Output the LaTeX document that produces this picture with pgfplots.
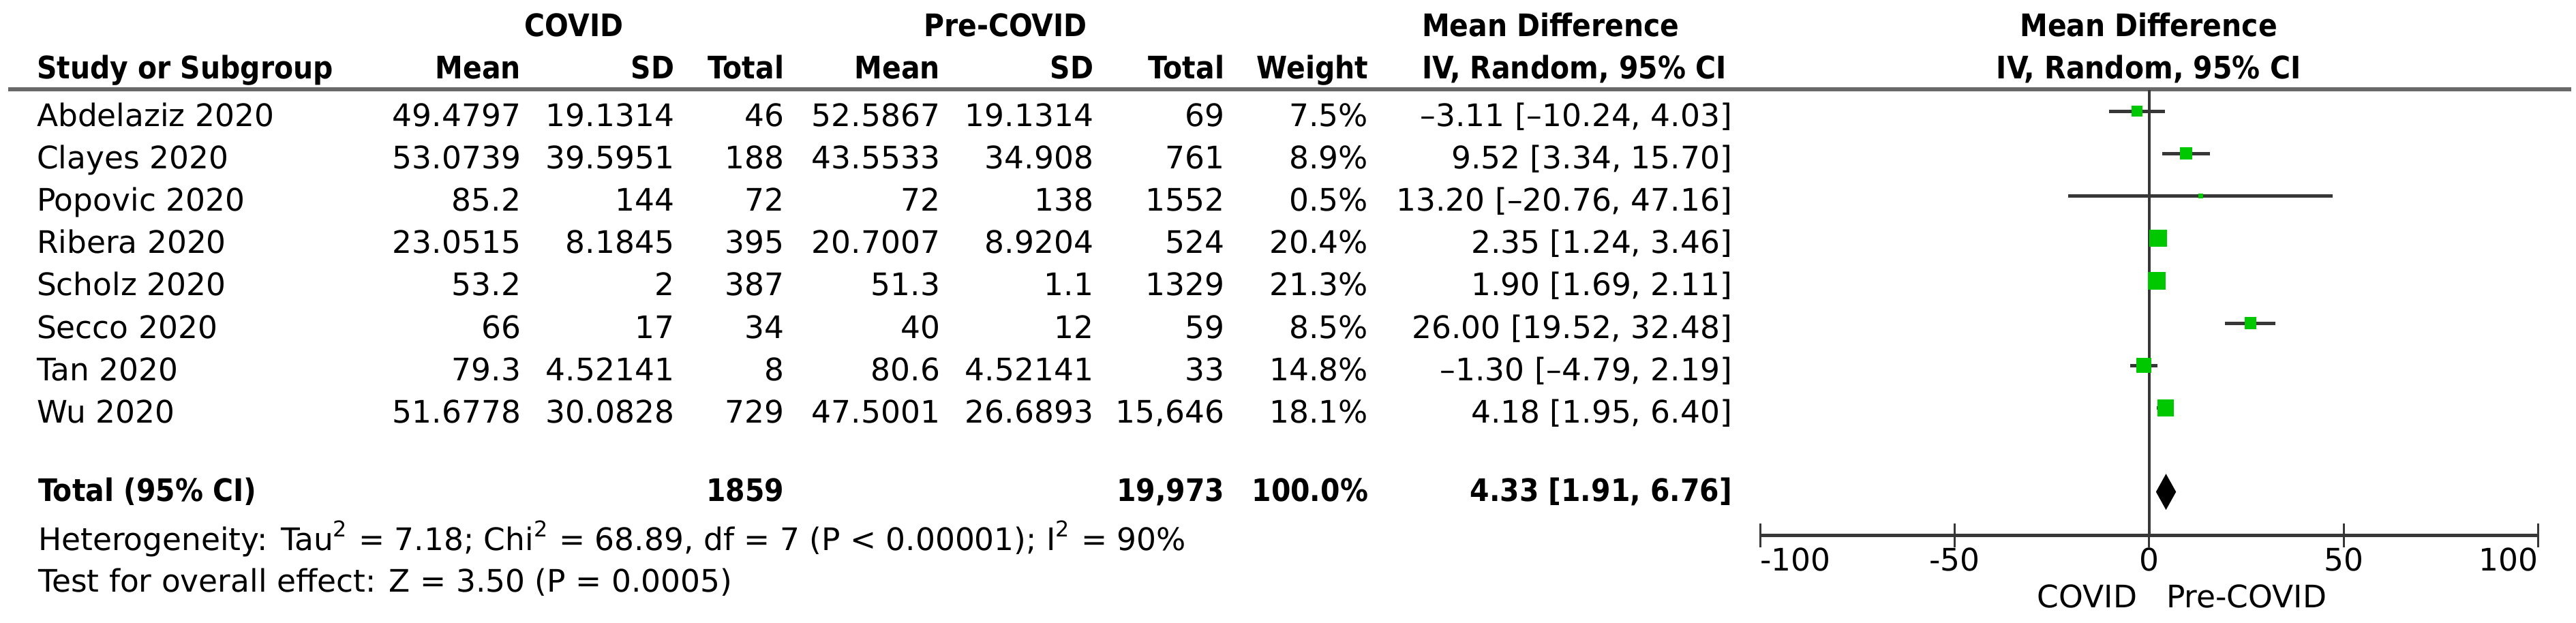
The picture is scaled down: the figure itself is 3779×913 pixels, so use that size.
\documentclass[border=0pt]{standalone}
\usepackage{fontspec}
\setmainfont{DejaVu Sans}[BoldFont={DejaVu Sans Condensed Bold}]
\usepackage{pgfplots}
\usepackage{pgfplotstable}
\pgfplotsset{compat=1.18}
\definecolor{sqgreen}{RGB}{0,200,0}
\definecolor{cigray}{RGB}{55,55,55}
\definecolor{rulegray}{RGB}{105,105,105}

% row = vertical slot (negative, top to bottom), md = mean difference, lo/hi = 95% CI, w = weight (%), ms = half side of square (pt)
\pgfplotstableread{
row md lo hi w ms
-1 -3.11 -10.24 4.03 7.5 1.45
-2 9.52 3.34 15.70 8.9 1.57
-3 13.20 -20.76 47.16 0.5 0.50
-4 2.35 1.24 3.46 20.4 2.35
-5 1.90 1.69 2.11 21.3 2.40
-6 26.00 19.52 32.48 8.5 1.54
-7 -1.30 -4.79 2.19 14.8 2.00
-8 4.18 1.95 6.40 18.1 2.22
}\studies

\newcommand\fnt{\fontsize{9.1pt}{11pt}\selectfont}
\newcommand\datarow[9]{%
  \pgfmathsetmacro\yb{185+(#1-1)*62.2}%
  \node[L] at (53,\yb) {#2};
  \node[R] at (765,\yb) {#3};
  \node[R] at (990,\yb) {#4};
  \node[R] at (1151,\yb) {#5};
  \node[R] at (1380,\yb) {#6};
  \node[R] at (1605,\yb) {#7};
  \node[R] at (1797,\yb) {#8};
  \node[R] at (2008,\yb) {#9};
}
\newcommand\cirow[2]{%
  \pgfmathsetmacro\yb{185+(#1-1)*62.2}%
  \node[R] at (2542,\yb) {#2};
}

\begin{document}
\fnt
\begin{tikzpicture}[x=0.2pt,y=-0.2pt,
  every node/.style={font=\fnt, inner sep=0pt},
  L/.style={anchor=base west}, R/.style={anchor=base east}, C/.style={anchor=base}]
\useasboundingbox (0,0) rectangle (3779,913);

% header
\node[C] at (842,53) {\textbf{COVID}};
\node[C] at (1475,53) {\textbf{Pre-COVID}};
\node[L] at (2085,53) {\textbf{Mean Difference}};
\node[C] at (3152,53) {\textbf{Mean Difference}};
\node[L] at (53,115) {\textbf{Study or Subgroup}};
\node[R] at (765,115) {\textbf{Mean}};
\node[R] at (990,115) {\textbf{SD}};
\node[R] at (1151,115) {\textbf{Total}};
\node[R] at (1380,115) {\textbf{Mean}};
\node[R] at (1605,115) {\textbf{SD}};
\node[R] at (1797,115) {\textbf{Total}};
\node[R] at (2008,115) {\textbf{Weight}};
\node[L] at (2085,115) {\textbf{IV, Random, 95\% CI}};
\node[C] at (3152,115) {\textbf{IV, Random, 95\% CI}};
\draw[rulegray, line width=1.2pt] (12,131) -- (3772,131);

% study rows
\datarow{1}{Abdelaziz 2020}{49.4797}{19.1314}{46}{52.5867}{19.1314}{69}{7.5\%}
\datarow{2}{Clayes 2020}{53.0739}{39.5951}{188}{43.5533}{34.908}{761}{8.9\%}
\datarow{3}{Popovic 2020}{85.2}{144}{72}{72}{138}{1552}{0.5\%}
\datarow{4}{Ribera 2020}{23.0515}{8.1845}{395}{20.7007}{8.9204}{524}{20.4\%}
\datarow{5}{Scholz 2020}{53.2}{2}{387}{51.3}{1.1}{1329}{21.3\%}
\datarow{6}{Secco 2020}{66}{17}{34}{40}{12}{59}{8.5\%}
\datarow{7}{Tan 2020}{79.3}{4.52141}{8}{80.6}{4.52141}{33}{14.8\%}
\datarow{8}{Wu 2020}{51.6778}{30.0828}{729}{47.5001}{26.6893}{15,646}{18.1\%}
\cirow{1}{--3.11 [--10.24, 4.03]}
\cirow{2}{9.52 [3.34, 15.70]}
\cirow{3}{13.20 [--20.76, 47.16]}
\cirow{4}{2.35 [1.24, 3.46]}
\cirow{5}{1.90 [1.69, 2.11]}
\cirow{6}{26.00 [19.52, 32.48]}
\cirow{7}{--1.30 [--4.79, 2.19]}
\cirow{8}{4.18 [1.95, 6.40]}

% total
\node[L] at (55,735) {\textbf{Total (95\% CI)}};
\node[R] at (1151,735) {\textbf{1859}};
\node[R] at (1797,735) {\textbf{19,973}};
\node[R] at (2008,735) {\textbf{100.0\%}};
\node[R] at (2542,735) {\textbf{4.33 [1.91, 6.76]}};
\node[L] at (55,807) {Heterogeneity: Tau\textsuperscript{2} = 7.18; Chi\textsuperscript{2} = 68.89, df = 7 (P < 0.00001); I\textsuperscript{2} = 90\%};
\node[L] at (55,868) {Test for overall effect: Z = 3.50 (P = 0.0005)};

% plot footer labels
\node[R] at (3136,891) {COVID};
\node[L] at (3177,891) {Pre-COVID};

\coordinate (SW) at (2582,785);
\begin{axis}[at={(SW)}, anchor=south west, scale only axis,
  width=228.3pt, height=130.6pt,
  xmin=-100, xmax=100, ymin=-11.0, ymax=-0.50,
  axis x line*=bottom, axis y line=none,
  axis line style={-, draw=cigray, line width=1pt},
  xtick={-100,-50,0,50,100},
  xticklabels={\rlap{-100},-50,0,50,\llap{100}},
  tick align=center, major tick length=7pt,
  tick style={draw=cigray, line width=0.6pt},
  xticklabel style={anchor=base, inner sep=0pt, yshift=-7pt, font=\fnt},
  clip=false]
\addplot[cigray, line width=0.7pt] coordinates {(0,-0.5) (0,-11.0)};
\addplot[forget plot, only marks, mark=*, mark size=0pt, mark options={draw=none, fill=none},
  error bars/.cd, x dir=both, x explicit, error mark=none,
  error bar style={cigray, line width=1pt}]
  table[x=md, y=row, x error minus expr=\thisrow{md}-\thisrow{lo}, x error plus expr=\thisrow{hi}-\thisrow{md}] {\studies};
\addplot[scatter, only marks, mark=square*,
  scatter/use mapped color={draw=sqgreen, fill=sqgreen},
  visualization depends on={\thisrow{ms} \as \msz},
  scatter/@pre marker code/.append style={/tikz/mark size=\msz pt}]
  table[x=md, y=row] {\studies};
\addplot[fill=black, draw=black, line width=0.3pt] coordinates {(1.91,-9.98) (4.33,-9.58) (6.76,-9.98) (4.33,-10.38) (1.91,-9.98)};
\end{axis}
\end{tikzpicture}
\end{document}
